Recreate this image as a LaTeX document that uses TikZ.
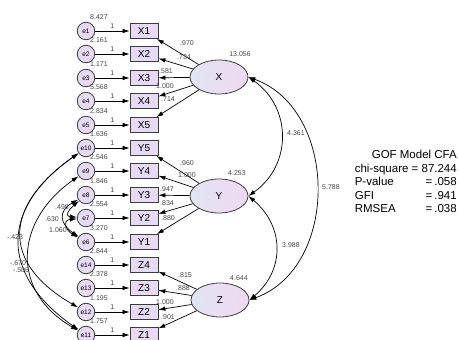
\documentclass[tikz,border=0pt]{standalone}
\usepackage{fontspec}
\setmainfont{Liberation Sans}
\usetikzlibrary{arrows.meta,shapes.geometric}

\definecolor{boxfill}{RGB}{230,218,244}
\definecolor{latleft}{RGB}{224,229,242}
\definecolor{latright}{RGB}{240,216,242}
\definecolor{edgegray}{RGB}{60,60,60}
\definecolor{lblgray}{RGB}{70,70,70}

\tikzset{
  err/.style={circle, draw=edgegray, fill=boxfill, minimum size=17.5pt, inner sep=0pt,
    line width=0.8pt, font=\fontsize{6.5}{7}\selectfont},
  ind/.style={rectangle, draw=edgegray, fill=boxfill, minimum width=28pt, minimum height=15pt,
    inner sep=0pt, line width=0.8pt, font=\fontsize{10}{11}\selectfont},
  lat/.style={ellipse, draw=edgegray, left color=latleft, right color=latright,
    minimum width=58pt, minimum height=34pt, inner sep=0pt, line width=0.8pt,
    font=\fontsize{10}{11}\selectfont},
  est/.style={inner sep=0pt, text=lblgray, font=\fontsize{7}{8}\selectfont},
  arr/.style={-{Latex[length=7pt,width=4.5pt]}, line width=0.7pt},
  cov/.style={{Latex[length=7pt,width=4.5pt]}-{Latex[length=7pt,width=4.5pt]}, line width=0.7pt},
}

\begin{document}
\begin{tikzpicture}[x=1pt, y=-1pt]
    \useasboundingbox (0,0) rectangle (459,340);
    \clip (0,0) rectangle (459,340);

    % latent factors
    \node[lat] (X) at (219,77) {X};
    \node[lat] (Y) at (219,196) {Y};
    \node[lat] (Z) at (220,300) {Z};
    \node[est] at (240,54) {13.056};
    \node[est] at (237,173) {4.253};
    \node[est] at (239,278) {4.644};

    % X indicators
    \node[err] (e1) at (86,31) {e1};
    \node[ind] (X1) at (144,31) {X1};
    \draw[arr] (e1) -- node[est, above=2pt] {1} (X1);
    \node[est] at (99,17) {8.427};

    \node[err] (e2) at (86,54) {e2};
    \node[ind] (X2) at (144,54) {X2};
    \draw[arr] (e2) -- node[est, above=2pt] {1} (X2);
    \node[est] at (99,40) {2.161};

    \node[err] (e3) at (86,78) {e3};
    \node[ind] (X3) at (144,78) {X3};
    \draw[arr] (e3) -- node[est, above=2pt] {1} (X3);
    \node[est] at (99,64) {1.171};

    \node[err] (e4) at (86,101) {e4};
    \node[ind] (X4) at (144,101) {X4};
    \draw[arr] (e4) -- node[est, above=2pt] {1} (X4);
    \node[est] at (99,87) {5.568};

    \node[err] (e5) at (86,125) {e5};
    \node[ind] (X5) at (144,125) {X5};
    \draw[arr] (e5) -- node[est, above=2pt] {1} (X5);
    \node[est] at (99,111) {2.834};

    % Y indicators
    \node[err] (e10) at (86,148) {e10};
    \node[ind] (Y5) at (144,148) {Y5};
    \draw[arr] (e10) -- node[est, above=2pt] {1} (Y5);
    \node[est] at (99,134) {1.636};

    \node[err] (e9) at (86,171) {e9};
    \node[ind] (Y4) at (144,171) {Y4};
    \draw[arr] (e9) -- node[est, above=2pt] {1} (Y4);
    \node[est] at (99,157) {2.546};

    \node[err] (e8) at (86,195) {e8};
    \node[ind] (Y3) at (144,195) {Y3};
    \draw[arr] (e8) -- node[est, above=2pt] {1} (Y3);
    \node[est] at (99,181) {1.846};

    \node[err] (e7) at (86,218) {e7};
    \node[ind] (Y2) at (144,218) {Y2};
    \draw[arr] (e7) -- node[est, above=2pt] {1} (Y2);
    \node[est] at (99,204) {2.554};

    \node[err] (e6) at (86,242) {e6};
    \node[ind] (Y1) at (144,242) {Y1};
    \draw[arr] (e6) -- node[est, above=2pt] {1} (Y1);
    \node[est] at (99,228) {3.270};

    % Z indicators
    \node[err] (e14) at (86,265) {e14};
    \node[ind] (Z4) at (144,265) {Z4};
    \draw[arr] (e14) -- node[est, above=2pt] {1} (Z4);
    \node[est] at (99,251) {2.844};

    \node[err] (e13) at (86,288) {e13};
    \node[ind] (Z3) at (144,288) {Z3};
    \draw[arr] (e13) -- node[est, above=2pt] {1} (Z3);
    \node[est] at (99,274) {2.378};

    \node[err] (e12) at (86,312) {e12};
    \node[ind] (Z2) at (144,312) {Z2};
    \draw[arr] (e12) -- node[est, above=2pt] {1} (Z2);
    \node[est] at (99,298) {1.195};

    \node[err] (e11) at (86,335) {e11};
    \node[ind] (Z1) at (144,335) {Z1};
    \draw[arr] (e11) -- node[est, above=2pt] {1} (Z1);
    \node[est] at (99,321) {1.757};

    % loadings
    \draw[arr] (X) -- (X1);
    \draw[arr] (X) -- (X2);
    \draw[arr] (X) -- (X3);
    \draw[arr] (X) -- (X4);
    \draw[arr] (X) -- (X5);
    \node[est] at (187,43) {.970};
    \node[est] at (184,57) {.734};
    \node[est] at (166,71) {.581};
    \node[est] at (165,86) {1.000};
    \node[est] at (168,99) {.714};

    \draw[arr] (Y) -- (Y5);
    \draw[arr] (Y) -- (Y4);
    \draw[arr] (Y) -- (Y3);
    \draw[arr] (Y) -- (Y2);
    \draw[arr] (Y) -- (Y1);
    \node[est] at (187,163) {.960};
    \node[est] at (187,175) {1.000};
    \node[est] at (167,189) {.947};
    \node[est] at (167,203) {.834};
    \node[est] at (168,218) {.880};

    \draw[arr] (Z) -- (Z4);
    \draw[arr] (Z) -- (Z3);
    \draw[arr] (Z) -- (Z2);
    \draw[arr] (Z) -- (Z1);
    \node[est] at (185,275) {.815};
    \node[est] at (183,288) {.888};
    \node[est] at (165,302) {1.000};
    \node[est] at (168,317) {.901};

    % factor covariances
    \draw[cov] (X.east) to[out=-35, in=35, looseness=1.15] (Y.east);
    \draw[cov] (Y.east) to[out=-40, in=40, looseness=1.15] (Z.east);
    \draw[cov] (X.east) to[out=-20, in=20, looseness=1.1] (Z.east);
    \node[est] at (296,133) {4.361};
    \node[est] at (291,245) {3.988};
    \node[est] at (331,187) {5.788};

    % error covariances
    \draw[cov] (e8) to[out=220, in=175, looseness=2] (e7);
    \draw[cov] (e8) to[out=210, in=145, looseness=1.6] (e6);
    \draw[cov] (e7) to[out=185, in=150, looseness=2] (e6);
    \node[est] at (62,207) {.498};
    \node[est] at (52,219) {.630};
    \node[est] at (58,230) {1.060};

    \draw[cov] (e10) to[out=215, in=150, looseness=1.5] (e12);
    \draw[cov] (e10) to[out=215, in=145, looseness=1.4] (e11);
    \draw[cov] (e9) to[out=215, in=150, looseness=1.3] (e11);
    \node[est] at (15,237) {-.423};
    \node[est] at (18,263) {-.670};
    \node[est] at (21,270) {-.506};

    % fit indices
    \node[anchor=north east, inner sep=0pt, font=\fontsize{11.5}{13.5}\selectfont] (gof) at (457,149)
      {\begin{tabular}{@{}l@{\hspace{14pt}}r@{}}
        \multicolumn{2}{@{}r@{}}{GOF Model CFA}\\
        \multicolumn{2}{@{}r@{}}{chi-square = 87.244}\\
        P-value & =\hspace{2pt}.058\\
        GFI & =\hspace{2pt}.941\\
        RMSEA & =\hspace{2pt}.038
      \end{tabular}};
\end{tikzpicture}
\end{document}
